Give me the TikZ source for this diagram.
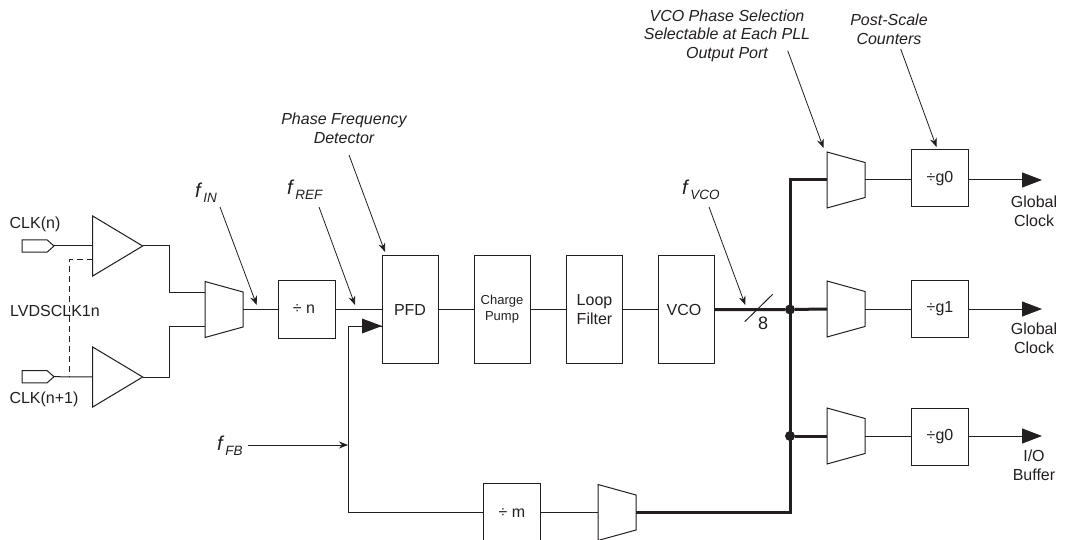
\documentclass[tikz,border=0pt]{standalone}
\usepackage{fontspec}
\setmainfont{Liberation Sans}
\usetikzlibrary{arrows.meta,calc}
\definecolor{ink}{HTML}{231F20}
\tikzset{
  wire/.style={draw=ink,line width=1pt},
  bus/.style={draw=ink,line width=3pt},
  callout/.style={draw=ink,line width=0.8pt,-{Stealth[length=9pt,width=7pt]}},
  bigtip/.style={draw=ink,line width=1pt,-{Triangle[length=20pt,width=15pt,fill=ink]}},
  blockbox/.style={draw=ink,line width=1pt,rectangle,inner sep=0pt,align=center,text=ink,font=\fontsize{16}{19}\selectfont},
  anchorbox/.style={rectangle,inner sep=0pt,outer sep=0pt},
  lab/.style={inner sep=0pt,align=center,text=ink,font=\fontsize{16}{19}\selectfont},
  note/.style={inner sep=0pt,align=center,text=ink,font=\fontsize{16}{18.6}\selectfont\itshape},
  dot/.style={circle,fill=ink,inner sep=0pt,minimum size=10pt}
}
\newcommand{\muxat}[3]{%
  \node[anchorbox,minimum width=38pt,minimum height=56pt] (#1) at (#2,#3) {};
  \draw[wire,line join=miter] ($(#1.center)+(-19,-28)$) -- ($(#1.center)+(19,-17.5)$) -- ($(#1.center)+(19,17.5)$) -- ($(#1.center)+(-19,28)$) -- cycle;
}
\newcommand{\bufat}[3]{%
  \node[anchorbox,minimum width=50pt,minimum height=60pt] (#1) at (#2,#3) {};
  \draw[wire] ($(#1.center)+(-25,-30)$) -- ($(#1.center)+(25,0)$) -- ($(#1.center)+(-25,30)$) -- cycle;
}
\newcommand{\padat}[3]{%
  \node[anchorbox,minimum width=32pt,minimum height=12.5pt] (#1) at (#2,#3) {};
  \draw[wire] ($(#1.center)+(-16,-6.2)$) -- ($(#1.center)+(9,-6.2)$) -- ($(#1.center)+(16,0)$) -- ($(#1.center)+(9,6.2)$) -- ($(#1.center)+(-16,6.2)$) -- cycle;
}
\newcommand{\fsym}[1]{{\fontsize{20}{20}\selectfont\itshape f}\,\raisebox{-5pt}{\fontsize{13.5}{14}\selectfont\itshape #1}}
\begin{document}
\begin{tikzpicture}[x=1pt,y=-1pt]
\useasboundingbox (0,0) rectangle (1066,540);
\padat{padA}{38}{246}
\padat{padB}{38}{376.7}
\bufat{bufA}{117.7}{246}
\bufat{bufB}{117.7}{377}
\muxat{muxIn}{224}{309.5}
\node[blockbox,minimum width=57pt,minimum height=57pt] (divn) at (307,309.5) {÷ n\hspace*{6pt}};
\node[blockbox,minimum width=56pt,minimum height=108pt] (pfd) at (410,309.5) {PFD};
\node[blockbox,minimum width=56pt,minimum height=108pt,font=\fontsize{13}{16}\selectfont] (cp) at (502,309.5) {Charge\\Pump};
\node[blockbox,minimum width=56pt,minimum height=108pt] (lf) at (594.5,309.5) {Loop\\Filter};
\node[blockbox,minimum width=56pt,minimum height=108pt] (vco) at (686,309.5) {VCO\hspace*{4pt}};
\muxat{muxA}{846}{180}
\muxat{muxB}{846}{309}
\muxat{muxC}{846}{436}
\muxat{muxF}{617}{512.5}
\node[blockbox,minimum width=57pt,minimum height=57pt] (gA) at (940,178.5) {÷g0};
\node[blockbox,minimum width=57pt,minimum height=57pt] (gB) at (940,309) {÷g1};
\node[blockbox,minimum width=57pt,minimum height=57pt] (gC) at (940,436.5) {÷g0};
\node[blockbox,minimum width=57pt,minimum height=60pt] (divm) at (512,513.5) {÷ m};
% junctions and helpers
\node[dot] (jB) at (790,309.5) {};
\node[dot] (jC) at (790,436) {};
\coordinate (busTop) at (790,180);
\coordinate (busBot) at (790,512.5);
\coordinate (fbCorner) at (348,512.5);
\coordinate (fbUp) at (348,326);
\coordinate (fbTap) at (348,445);
\coordinate (fbSrc) at (248,445);
\coordinate (outA) at (1042,180);
\coordinate (outB) at (1042,309);
\coordinate (outC) at (1042,436);
\coordinate (sA) at (744.7,321.7);
\coordinate (sB) at (772.7,294.3);
\coordinate (dA) at (92.7,259.3);
\coordinate (dB) at (69.7,259.3);
\coordinate (dC) at (69.7,376.7);
\coordinate (mA) at (169.5,246);
\coordinate (mB) at (169.5,292);
\coordinate (mC) at (169.5,377);
\coordinate (mD) at (169.5,326);
% wires
\draw[wire] (padA.east) -- (bufA.west);
\draw[wire] (padB.east) -- (bufB.west);
\draw[wire] (bufA.east) -- (mA) -- (mB) -- (muxIn.west|-mB);
\draw[wire] (bufB.east) -- (mC) -- (mD) -- (muxIn.west|-mD);
\draw[wire] (muxIn.east) -- (divn.west);
\draw[wire] (divn.east) -- (pfd.west);
\draw[wire] (pfd.east) -- (cp.west);
\draw[wire] (cp.east) -- (lf.west);
\draw[wire] (lf.east) -- (vco.west);
\draw[wire,dash pattern=on 6pt off 4pt] (dA) -- (dB) -- (dC);
\draw[bus] (vco.east) -- (jB) -- (muxB.west);
\draw[bus,line join=miter] (muxA.west|-busTop) -- (busTop) -- (busBot) -- (muxF.east);
\draw[bus] (jC) -- (muxC.west);
\draw[wire] (muxA.east) -- (gA.west|-muxA.east);
\draw[wire] (muxB.east) -- (gB.west);
\draw[wire] (muxC.east) -- (gC.west|-muxC.east);
\draw[bigtip] (gA.east|-outA) -- (outA);
\draw[bigtip] (gB.east) -- (outB);
\draw[bigtip] (gC.east|-outC) -- (outC);
\draw[wire] (muxF.west) -- (divm.east|-muxF.west);
\draw[wire] (divm.west|-muxF.west) -- (fbCorner) -- (fbUp) -- (pfd.west|-fbUp);
\draw[draw=none,fill=ink] (362,318.5) -- (382,326) -- (362,333.5) -- cycle;
\draw[callout] (fbSrc) -- (fbTap);
\draw[draw=ink,line width=1pt] (sA) -- (sB);
\node[lab,font=\fontsize{18}{18}\selectfont] (eight) at (763,323) {8};
% labels
\node[lab] (tA) at (35,224) {CLK(n)};
\node[lab,anchor=west] (tB) at (10,311) {LVDSCLK1n};
\node[lab] (tC) at (44,399) {CLK(n+1)};
\node[lab] (tD) at (1034,211) {Global\\Clock};
\node[lab] (tE) at (1034,338) {Global\\Clock};
\node[lab] (tF) at (1034,465) {I/O\\Buffer};
\node[note] (nPFD) at (344,128) {Phase Frequency\\Detector};
\node[note] (nVCO) at (727,35.5) {VCO Phase Selection\\Selectable at Each PLL\\Output Port};
\node[note] (nPost) at (889,29.5) {Post-Scale\\Counters};
\node[lab,anchor=west] (fIN) at (195,192.5) {\fsym{IN}};
\node[lab,anchor=west] (fREF) at (287,190) {\fsym{REF}};
\node[lab,anchor=west] (fVCO) at (682,190) {\fsym{VCO}};
\node[lab,anchor=west] (fFB) at (217,446) {\fsym{FB}};
% callouts
\coordinate (cIN) at (220,207);
\coordinate (cINe) at (256.7,305);
\coordinate (cREF) at (319,207);
\coordinate (cREFe) at (355,305);
\coordinate (cPFD) at (349,155);
\coordinate (cPFDe) at (385,252);
\coordinate (cV) at (787.7,50.7);
\coordinate (cVe) at (823.5,148);
\coordinate (cP) at (900.7,49);
\coordinate (cPe) at (936.5,147);
\coordinate (cF) at (709,207);
\coordinate (cFe) at (745.3,305);
\draw[callout] (cIN) -- (cINe);
\draw[callout] (cREF) -- (cREFe);
\draw[callout] (cPFD) -- (cPFDe);
\draw[callout] (cV) -- (cVe);
\draw[callout] (cP) -- (cPe);
\draw[callout] (cF) -- (cFe);
\end{tikzpicture}
\end{document}
